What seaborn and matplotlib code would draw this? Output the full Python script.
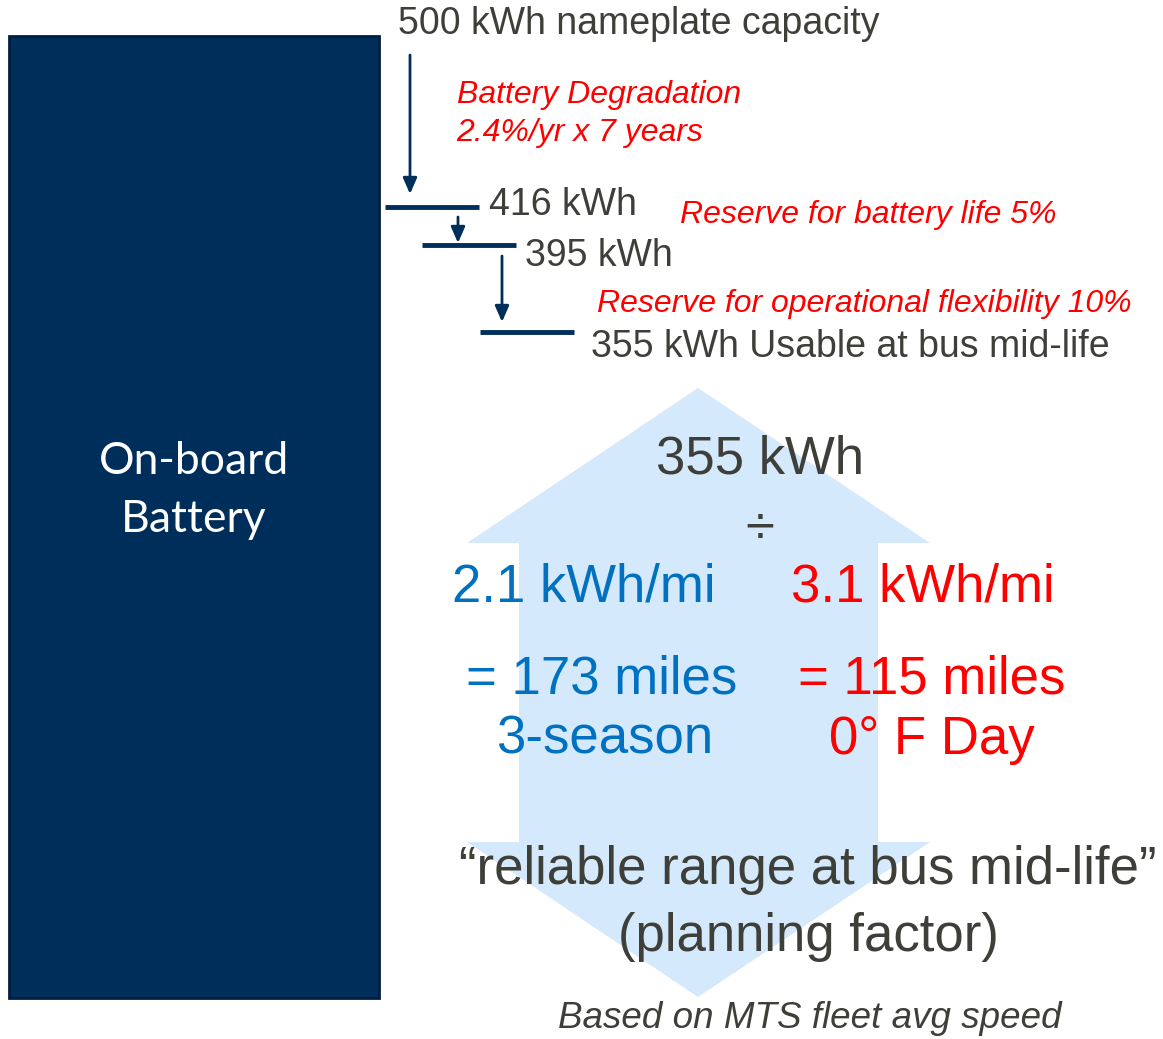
import matplotlib
matplotlib.use("Agg")
import matplotlib.pyplot as plt
import seaborn as sns
from matplotlib.patches import Rectangle, Polygon

# ---- data ----
capacity_steps = [500, 416, 395, 355]          # kWh
step_labels = ["nameplate capacity", "", "", "Usable at bus mid-life"]
reductions = ["Battery Degradation\n2.4%/yr x 7 years",
              "Reserve for battery life 5%",
              "Reserve for operational flexibility 10%"]
consumption = [2.1, 3.1]                        # kWh/mi
ranges = [173, 115]                             # miles
conditions = ["3-season", "0° F Day"]

sns.set_theme(style="white")
plt.rcParams['font.family'] = ['Liberation Sans', 'DejaVu Sans']

W, H = 1163, 1039
fig = plt.figure(figsize=(W / 100, H / 100), dpi=100)
ax = fig.add_axes([0, 0, 1, 1])
ax.set_xlim(0, W)
ax.set_ylim(H, 0)
ax.axis("off")

navy = "#002E5A"
grey = "#3F3F3A"
red = "#FF0000"
blue = "#0070C0"

# battery block
ax.add_patch(Rectangle((9, 36), 370, 962, facecolor=navy, edgecolor="#001F40", lw=2))
ax.text(194, 462, "On-board", color="white", fontsize=32, family=["Lato", "DejaVu Sans"],
        ha="center", va="center")
ax.text(194, 519, "Battery", color="white", fontsize=32, family=["Lato", "DejaVu Sans"],
        ha="center", va="center")

# big double arrow
arrow = Polygon([(698, 388), (930, 543), (878, 543), (878, 842), (930, 842),
                 (698, 997), (467, 842), (519, 842), (519, 543), (467, 543)],
                closed=True, facecolor="#D4E9FB", edgecolor="none")
ax.add_patch(arrow)

# step levels
levels_y = [None, 207, 245, 332]
levels_x = [None, 385, 422, 480]
for i in range(1, 4):
    ax.plot([levels_x[i], levels_x[i] + 94], [levels_y[i]] * 2, color=navy, lw=3.5,
            solid_capstyle="butt")

def down_arrow(x, y0, y1):
    ax.annotate("", xy=(x, y1), xytext=(x, y0),
                arrowprops=dict(arrowstyle="-|>,head_length=0.8,head_width=0.35",
                                color=navy, lw=2, shrinkA=0, shrinkB=0))

down_arrow(410, 55, 194)
down_arrow(458, 217, 243)
down_arrow(502, 256, 322)

# capacity texts
ax.text(398, 24, f"{capacity_steps[0]} kWh {step_labels[0]}", color=grey, fontsize=27,
        ha="left", va="center")
ax.text(489, 205, f"{capacity_steps[1]} kWh", color=grey, fontsize=27, ha="left", va="center")
ax.text(525, 256, f"{capacity_steps[2]} kWh", color=grey, fontsize=27, ha="left", va="center")
ax.text(591, 347, f"{capacity_steps[3]} kWh {step_labels[3]}", color=grey, fontsize=27,
        ha="left", va="center")

# reductions
rl = reductions[0].split("\n")
ax.text(457, 95, rl[0], color=red, fontsize=23, style="italic", ha="left", va="center")
ax.text(456, 133, rl[1], color=red, fontsize=23, style="italic", ha="left", va="center")
ax.text(680, 215, reductions[1], color=red, fontsize=23, style="italic", ha="left", va="center")
ax.text(597, 304, reductions[2], color=red, fontsize=23, style="italic", ha="left", va="center")

# calculation
ax.text(760, 460, f"{capacity_steps[3]} kWh", color=grey, fontsize=38, ha="center", va="center")
ax.text(760, 530, "÷", color=grey, fontsize=38, ha="center", va="center")
ax.text(584, 588, f"{consumption[0]} kWh/mi", color=blue, fontsize=38, ha="center", va="center")
ax.text(923, 588, f"{consumption[1]} kWh/mi", color=red, fontsize=38, ha="center", va="center")
ax.text(602, 680, f"= {ranges[0]} miles", color=blue, fontsize=38, ha="center", va="center")
ax.text(932, 680, f"= {ranges[1]} miles", color=red, fontsize=38, ha="center", va="center")
ax.text(605, 740, conditions[0], color=blue, fontsize=38, ha="center", va="center")
ax.text(932, 740, conditions[1], color=red, fontsize=38, ha="center", va="center")

ax.text(808, 870, "“reliable range at bus mid-life”", color=grey, fontsize=38,
        ha="center", va="center")
ax.text(808, 937, "(planning factor)", color=grey, fontsize=38, ha="center", va="center")
ax.text(810, 1018, "Based on MTS fleet avg speed", color=grey, fontsize=26.5, style="italic",
        ha="center", va="center")

fig.savefig("out.png", dpi=100)
